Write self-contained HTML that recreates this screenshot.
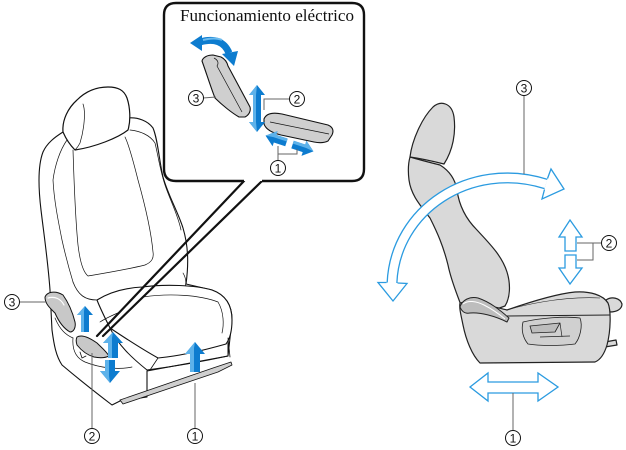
<!DOCTYPE html>
<html><head><meta charset="utf-8"><style>
html,body{margin:0;padding:0;background:#fff;}
svg{display:block;}
</style></head><body>
<svg width="626" height="450" viewBox="0 0 626 450" xmlns="http://www.w3.org/2000/svg">
<rect width="626" height="450" fill="#fff"/>

<!-- ================= LEFT SEAT ================= -->
<g stroke="#111" stroke-linejoin="round" stroke-linecap="round">
  <!-- backrest -->
  <path d="M63,132 C55,137 47,143 43,152 C38,165 38,185 41,210 C44,235 48,262 50,290 L52,330 C54,345 56,356 62,365 C75,376 95,392 112,405 L120,401 L147,397 L147,371 L228,356 L232,320 C232,305 226,295 212,290 L186,284 C189,262 188,245 183,228 C178,212 168,195 163,177 C159,160 158,140 153,128 C148,121 138,117 128,118 Z" fill="#fff" stroke-width="1.1"/>
  <!-- headrest -->
  <path d="M63,132 C62,120 68,108 77,100 C85,92 95,87 108,87 C118,87 124,90 127,98 C130,107 131,120 128,130 C118,138 95,147 75,150 C70,145 66,139 63,132 Z" fill="#fff" stroke-width="1.2"/>
  <path d="M83,104 C86,112 84,130 80,143 C78,147 76,149 75,150" fill="none" stroke-width="0.7"/>
  <!-- backrest inner lines -->
  <path d="M67,140 C60,150 55,165 53,180 C54,200 58,220 62,240 C66,258 70,272 73,282" fill="none" stroke-width="0.7"/>
  <path d="M130,130 C140,131 150,135 155,143 C158,155 160,170 165,185 C170,200 178,215 181,230" fill="none" stroke-width="0.7"/>
  <path d="M73,150 C74,180 75,215 78,245 C80,262 83,272 88,276 C100,274 125,270 145,265 C152,262 154,258 153,252 C151,230 145,205 138,180 C133,160 129,145 125,137" fill="none" stroke-width="0.7"/>
  <path d="M183,273 C186,278 187,284 184,288" fill="none" stroke-width="0.7"/>
  <!-- cushion -->
  <path d="M97,300 C110,292 125,288 142,287 C165,284 195,285 212,290 C226,295 232,305 232,320 C232,332 229,340 226,344 C205,350 180,356 158,358 C140,348 122,336 110,328 C105,318 100,308 97,300 Z" fill="#fff" stroke-width="1.1"/>
  <path d="M143,297 C170,293 200,295 218,302 C224,312 224,325 222,333" fill="none" stroke-width="0.7"/>
  <path d="M110,328 C118,345 132,358 147,370 C170,367 200,362 228,356 L228,343" fill="none" stroke-width="1"/>
  <path d="M158,358 L150,370" fill="none" stroke-width="0.8"/>
  <path d="M73,282 C78,295 85,300 97,300" fill="none" stroke-width="0.8"/>
  <path d="M100,322 C106,318 113,315 120,312" fill="none" stroke-width="0.7"/>
  <path d="M73,338 C72,350 76,358 85,362 C100,368 118,370 132,367" fill="none" stroke-width="0.7"/>
  <path d="M55,318 C60,330 66,335 73,338" fill="none" stroke-width="0.7"/>
  <path d="M228,338 L230,357" fill="none" stroke-width="0.8"/>
  <!-- rail -->
  <path d="M120,400 L213,368 L222,365 L231,362 L232,365 L224,369 L218,372 L123,404 Z" fill="#cfcfcf" stroke-width="0.8"/>
  <!-- lever 3 -->
  <path d="M45,297 C47,292 55,290 63,295 C68,302 72,310 75,322 C76,327 74,332 70,332 C63,328 58,320 55,313 C50,308 45,304 45,297 Z" fill="#c8c8c8" stroke-width="1"/>
  <path d="M48,298 C55,296 61,299 64,305" fill="none" stroke="#fff" stroke-width="1.2"/>
  <!-- lever 2 -->
  <path d="M77,337 C82,334 90,338 97,343 C101,347 106,351 109,356 C105,358 99,358 94,357 C87,355 81,350 77,345 C76,342 76,339 77,337 Z" fill="#c8c8c8" stroke-width="1"/>
  <path d="M80,352 L82,358 L86,356" fill="none" stroke-width="0.8"/>
</g>

<!-- left seat blue arrows -->
<g>
  <polygon points="85,306 93,315 89,315 89,332 81,332 81,315 77,315" fill="#0d7ccf"/>
  <polygon points="85,306 77,315 81,315 81,332 84,332 84,311" fill="#5db2ea"/>
  <polygon points="113,332 123,343 118,343 118,358 108,358 108,343 103,343" fill="#0d7ccf"/>
  <polygon points="113,332 103,343 108,343 108,358 112,358 112,338" fill="#5db2ea"/>
  <polygon points="105,360 115,360 115,371 120,371 110,383 100,371 105,371" fill="#0d7ccf"/>
  <polygon points="105,360 109,360 109,376 110,383 100,371 105,371" fill="#5db2ea"/>
  <polygon points="195,342 205,354 200,354 200,372 190,372 190,354 185,354" fill="#0d7ccf"/>
  <polygon points="195,342 185,354 190,354 190,372 194,372 194,348" fill="#5db2ea"/>
</g>

<!-- callout lines from inset -->
<g stroke="#111" stroke-width="2.2" fill="none" stroke-linecap="round">
  <line x1="244" y1="181" x2="97" y2="336"/>
  <line x1="262" y1="181" x2="103" y2="336"/>
</g>

<!-- left labels -->
<g stroke="#666" stroke-width="1" fill="none">
  <line x1="20" y1="302" x2="46" y2="302"/>
  <line x1="92" y1="428" x2="92" y2="353"/>
  <line x1="195" y1="428" x2="195" y2="383"/>
</g>

<!-- ================= INSET ================= -->
<path d="M244,181 L176,181 Q164,181 164,169 L164,15 Q164,3 176,3 L352,3 Q364,3 364,15 L364,169 Q364,181 352,181 L262,181" fill="#fff" stroke="#111" stroke-width="2.4"/>
<text x="180" y="21" font-family="'Liberation Serif', serif" font-size="17" textLength="174" lengthAdjust="spacingAndGlyphs" fill="#111">Funcionamiento eléctrico</text>

<!-- seatback switch -->
<g stroke="#111" stroke-linejoin="round">
  <path d="M202,61 C203,57 208,55 213,55 L221,57 C225,59 227,62 228,66 L250,107 C251,111 249,115 245,117 L239,117 C232,113 222,105 215,98 C211,88 206,72 202,61 Z" fill="#cfcfcf" stroke-width="1.1"/>
  <path d="M214,58 C218,60 219,63 217,66 L242,112" fill="none" stroke-width="0.7"/>
  <!-- cushion switch -->
  <path d="M264,119 C266,114 272,112 282,114 L328,125 C333,127 334,131 332,135 L328,141 C324,143 319,143 314,142 L281,135 C273,133 266,130 264,124 Z" fill="#cfcfcf" stroke-width="1.1"/>
  <path d="M270,122 C290,126 310,130 329,134" fill="none" stroke-width="0.7"/>
</g>
<!-- inset arrows -->
<g>
  <path d="M200,42 Q222,36 229,53" fill="none" stroke="#0d7ccf" stroke-width="7"/>
  <polygon points="190,43 202,35 202,51" fill="#0d7ccf"/>
  <polygon points="222,54 238,51 234,66" fill="#0d7ccf"/>
  <path d="M203,40 Q215,37 222,40" fill="none" stroke="#6cbbee" stroke-width="2"/>
  <polygon points="257,85 265,95 261,95 261,122 265,122 257,132 249,122 253,122 253,95 249,95" fill="#0d7ccf"/>
  <polygon points="257,85 249,95 253,95 253,122 249,122 257,132 256,122 256,95" fill="#5db2ea"/>
  <g transform="rotate(18 276 139)">
    <polygon points="265,139 275,131 275,135 287,135 287,143 275,143 275,147" fill="#0d7ccf"/>
    <polygon points="265,139 275,131 275,135 287,135 287,138 273,138" fill="#5db2ea"/>
  </g>
  <g transform="rotate(18 303 148)">
    <polygon points="314,148 304,140 304,144 292,144 292,152 304,152 304,156" fill="#0d7ccf"/>
    <polygon points="314,148 304,140 304,144 292,144 292,147 306,147" fill="#5db2ea"/>
  </g>
</g>
<g stroke="#666" stroke-width="1" fill="none">
  <line x1="203" y1="98" x2="216" y2="97"/>
  <polyline points="290,99 264,99 264,110"/>
  <polyline points="278,146 278,154 297,154 297,149"/>
  <line x1="278" y1="154" x2="278" y2="160"/>
</g>

<!-- ================= RIGHT SEAT ================= -->
<g stroke="#222" stroke-width="1.2" stroke-linejoin="round" fill="#d9d9d9">
  <path d="M410,157 C420,160 432,163 440,165 C448,170 455,178 457,190 C459,205 465,218 477,230 C490,244 502,256 507,272 C511,285 510,298 505,306 L466,320 C460,300 452,285 448,265 C443,245 437,232 430,218 C420,205 411,195 409,180 C408,172 408,164 410,157 Z"/>
  <path d="M410,157 C412,140 422,118 433,107 C441,100 452,103 454,117 C456,133 453,150 444,164 C436,162 424,159 410,157 Z"/>
  <path d="M606,300 C612,296 620,298 622,304 C622,309 617,312 610,312 Z"/>
  <path d="M605,342 L616,340 L617,345 L605,347 Z"/>
  <path d="M460,303 C470,300 490,306 507,310 C530,302 555,294 575,292 C590,291 603,295 608,303 C611,310 611,330 607,345 C604,355 600,360 595,362 L480,363 C472,355 466,340 463,325 C461,315 459,308 460,303 Z"/>
  <path d="M507,316 L610,315" fill="none" stroke-width="0.9"/>
  <path d="M507,310 C520,306 560,296 600,298" fill="none" stroke-width="0.6"/>
  <!-- lever -->
  <path d="M460,307 C462,300 470,296 478,298 C490,302 500,310 509,318 L507,322 C495,316 480,312 470,313 C465,314 462,312 460,307 Z" fill="#bdbdbd" stroke-width="1"/>
  <path d="M463,304 C468,300 476,301 484,305 C492,309 499,314 505,319" fill="none" stroke="#fff" stroke-width="1"/>
  <!-- switch -->
  <path d="M523,322 C540,318 565,316 580,318 C583,326 580,338 575,344 C560,346 540,346 528,344 C523,338 521,330 523,322 Z" fill="#d0d0d0" stroke-width="0.8"/>
  <path d="M530,326 L560,323 L555,332 L532,333 Z" fill="#bdbdbd" stroke-width="0.8"/>
  <path d="M560,323 L562,337 M540,337 L570,336" fill="none" stroke-width="0.7"/>
</g>

<!-- right seat arrows (outline) -->
<g fill="none" stroke="#2b9be0" stroke-linejoin="miter">
  <path d="M392,283 C395,210 470,160 546,184" stroke-width="11"/>
  <path d="M392,283 C395,210 470,160 546,184" stroke="#fff" stroke-width="8.4"/>
  <polyline points="397.5,283 407,283.5 393,301 378,282.5 386.5,282.5" fill="#fff" stroke-width="1.3"/>
  <polyline points="547.5,178.5 551,169 564,189 542,199 544.5,189.5" fill="#fff" stroke-width="1.3"/>
  <polygon points="570,220 582,237 576,237 576,251 565,251 565,237 559,237" fill="#fff" stroke-width="1.3"/>
  <polygon points="565,255 576,255 576,268 582,268 570,284 559,268 565,268" fill="#fff" stroke-width="1.3"/>
  <polygon points="470,387 488,373 488,382 538,382 538,373 558,387 538,401 538,393 488,393 488,401" fill="#fff" stroke-width="1.3"/>
</g>
<g stroke="#666" stroke-width="1" fill="none">
  <line x1="524" y1="96" x2="524" y2="174"/>
  <polyline points="577,243 593,243 593,260 577,260"/>
  <line x1="593" y1="243" x2="601" y2="243"/>
  <line x1="513" y1="393" x2="513" y2="430"/>
</g>

<!-- circled numbers -->
<g font-family="'Liberation Sans', sans-serif" font-size="12" text-anchor="middle" fill="#111">
  <g fill="#fff" stroke="#111" stroke-width="1">
    <circle cx="12" cy="302" r="7.5"/>
    <circle cx="92" cy="436" r="7.5"/>
    <circle cx="195" cy="436" r="7.5"/>
    <circle cx="196" cy="98" r="7.5"/>
    <circle cx="297" cy="99" r="7.5"/>
    <circle cx="278" cy="168" r="7.5"/>
    <circle cx="524" cy="88" r="7.5"/>
    <circle cx="609" cy="243" r="7.5"/>
    <circle cx="513" cy="438" r="7.5"/>
  </g>
  <text x="12" y="306.5">3</text>
  <text x="92" y="440.5">2</text>
  <text x="195" y="440.5">1</text>
  <text x="196" y="102.5">3</text>
  <text x="297" y="103.5">2</text>
  <text x="278" y="172.5">1</text>
  <text x="524" y="92.5">3</text>
  <text x="609" y="247.5">2</text>
  <text x="513" y="442.5">1</text>
</g>
</svg>
</body></html>
